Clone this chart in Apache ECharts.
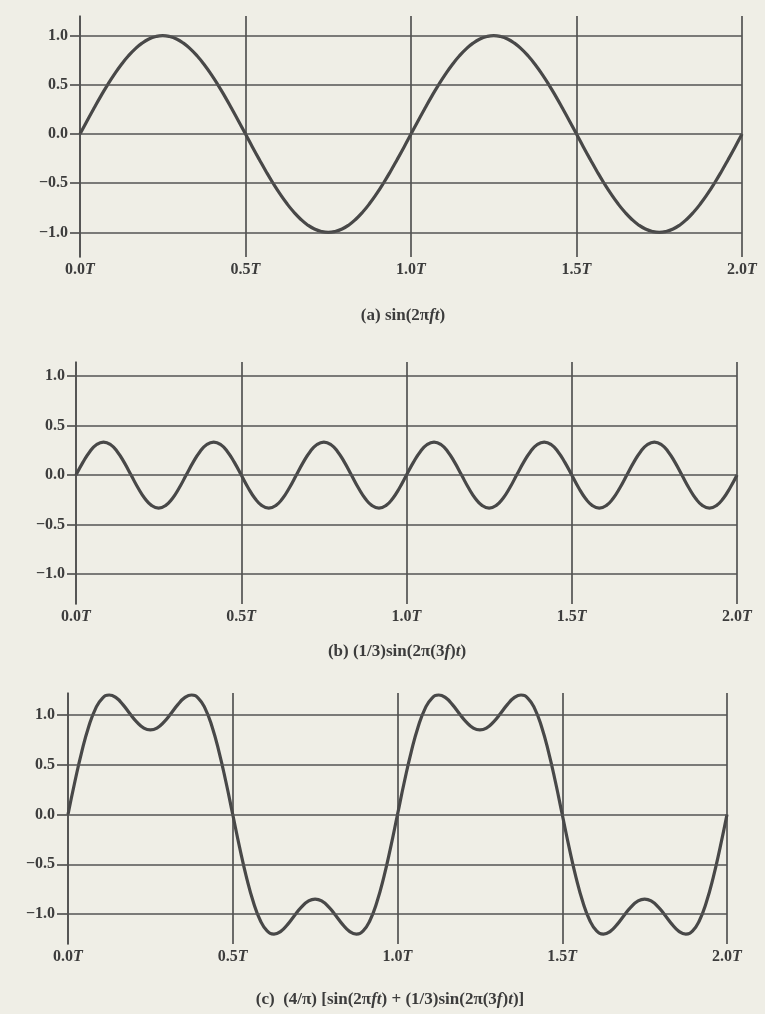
<!DOCTYPE html>
<html>
<head>
<meta charset="utf-8">
<title>sin waves</title>
<script src="https://cdn.jsdelivr.net/npm/echarts@6.0.0/dist/echarts.min.js"></script>
<style>
  html, body { margin: 0; padding: 0; background: #efeee6; }
  #chart { width: 765px; height: 1014px; }
</style>
</head>
<body>
<div id="chart"></div>
<script>
// sample times, in periods T (1/48 T apart)
const times = [
  0, 0.0208, 0.0417, 0.0625, 0.0833, 0.1042, 0.125, 0.1458, 0.1667, 0.1875, 0.2083, 0.2292,
  0.25, 0.2708, 0.2917, 0.3125, 0.3333, 0.3542, 0.375, 0.3958, 0.4167, 0.4375, 0.4583, 0.4792,
  0.5, 0.5208, 0.5417, 0.5625, 0.5833, 0.6042, 0.625, 0.6458, 0.6667, 0.6875, 0.7083, 0.7292,
  0.75, 0.7708, 0.7917, 0.8125, 0.8333, 0.8542, 0.875, 0.8958, 0.9167, 0.9375, 0.9583, 0.9792,
  1.0, 1.0208, 1.0417, 1.0625, 1.0833, 1.1042, 1.125, 1.1458, 1.1667, 1.1875, 1.2083, 1.2292,
  1.25, 1.2708, 1.2917, 1.3125, 1.3333, 1.3542, 1.375, 1.3958, 1.4167, 1.4375, 1.4583, 1.4792,
  1.5, 1.5208, 1.5417, 1.5625, 1.5833, 1.6042, 1.625, 1.6458, 1.6667, 1.6875, 1.7083, 1.7292,
  1.75, 1.7708, 1.7917, 1.8125, 1.8333, 1.8542, 1.875, 1.8958, 1.9167, 1.9375, 1.9583, 1.9792,
  2.0
]

// (a) sin(2πft)
const waveA = [
  0, 0.131, 0.259, 0.383, 0.5, 0.609, 0.707, 0.793, 0.866, 0.924, 0.966, 0.991,
  1, 0.991, 0.966, 0.924, 0.866, 0.793, 0.707, 0.609, 0.5, 0.383, 0.259, 0.131,
  0, -0.131, -0.259, -0.383, -0.5, -0.609, -0.707, -0.793, -0.866, -0.924, -0.966, -0.991,
  -1, -0.991, -0.966, -0.924, -0.866, -0.793, -0.707, -0.609, -0.5, -0.383, -0.259, -0.131,
  0, 0.131, 0.259, 0.383, 0.5, 0.609, 0.707, 0.793, 0.866, 0.924, 0.966, 0.991,
  1, 0.991, 0.966, 0.924, 0.866, 0.793, 0.707, 0.609, 0.5, 0.383, 0.259, 0.131,
  0, -0.131, -0.259, -0.383, -0.5, -0.609, -0.707, -0.793, -0.866, -0.924, -0.966, -0.991,
  -1, -0.991, -0.966, -0.924, -0.866, -0.793, -0.707, -0.609, -0.5, -0.383, -0.259, -0.131,
  0
]

// (b) (1/3)sin(2π(3f)t)
const waveB = [
  0, 0.128, 0.236, 0.308, 0.333, 0.308, 0.236, 0.128, 0, -0.128, -0.236, -0.308,
  -0.333, -0.308, -0.236, -0.128, 0, 0.128, 0.236, 0.308, 0.333, 0.308, 0.236, 0.128,
  0, -0.128, -0.236, -0.308, -0.333, -0.308, -0.236, -0.128, 0, 0.128, 0.236, 0.308,
  0.333, 0.308, 0.236, 0.128, 0, -0.128, -0.236, -0.308, -0.333, -0.308, -0.236, -0.128,
  0, 0.128, 0.236, 0.308, 0.333, 0.308, 0.236, 0.128, 0, -0.128, -0.236, -0.308,
  -0.333, -0.308, -0.236, -0.128, 0, 0.128, 0.236, 0.308, 0.333, 0.308, 0.236, 0.128,
  0, -0.128, -0.236, -0.308, -0.333, -0.308, -0.236, -0.128, 0, 0.128, 0.236, 0.308,
  0.333, 0.308, 0.236, 0.128, 0, -0.128, -0.236, -0.308, -0.333, -0.308, -0.236, -0.128,
  0
]

// (c) (4/π)[sin(2πft) + (1/3)sin(2π(3f)t)]
const waveC = [
  0, 0.329, 0.630, 0.879, 1.061, 1.167, 1.200, 1.173, 1.103, 1.014, 0.930, 0.870,
  0.849, 0.870, 0.930, 1.014, 1.103, 1.173, 1.200, 1.167, 1.061, 0.879, 0.630, 0.329,
  0, -0.329, -0.630, -0.879, -1.061, -1.167, -1.200, -1.173, -1.103, -1.014, -0.930, -0.870,
  -0.849, -0.870, -0.930, -1.014, -1.103, -1.173, -1.200, -1.167, -1.061, -0.879, -0.630, -0.329,
  0, 0.329, 0.630, 0.879, 1.061, 1.167, 1.200, 1.173, 1.103, 1.014, 0.930, 0.870,
  0.849, 0.870, 0.930, 1.014, 1.103, 1.173, 1.200, 1.167, 1.061, 0.879, 0.630, 0.329,
  0, -0.329, -0.630, -0.879, -1.061, -1.167, -1.200, -1.173, -1.103, -1.014, -0.930, -0.870,
  -0.849, -0.870, -0.930, -1.014, -1.103, -1.173, -1.200, -1.167, -1.061, -0.879, -0.630, -0.329,
  0
]

const yTicks = [1.0, 0.5, 0.0, -0.5, -1.0]
const yTickLabels = ['1.0', '0.5', '0.0', '\u22120.5', '\u22121.0']
const xTickLabels = ['0.0', '0.5', '1.0', '1.5', '2.0']

const titles = [
  '{b|(a) sin(2\u03c0}{i|ft}{b|)}',
  '{b|(b) (1/3)sin(2\u03c0(3}{i|f}{b|)}{i|t}{b|)}',
  '{b|(c)  (4/\u03c0) [sin(2\u03c0}{i|ft}{b|) + (1/3)sin(2\u03c0(3}{i|f}{b|)}{i|t}{b|)]}'
]

// layout of the three panels (px)
const panels = [
  { left: 80, right: 23, top: 16, height: 241, min: -1.25, max: 1.2, tick: 10, titleX: 403, titleY: 316, data: waveA },
  { left: 76, right: 28, top: 362, height: 242, min: -1.3, max: 1.14, tick: 9, titleX: 397, titleY: 652, data: waveB },
  { left: 68, right: 38, top: 693, height: 251, min: -1.3, max: 1.22, tick: 11, titleX: 390, titleY: 1000, data: waveC }
]

const inkColor = '#484848'
const gridColor = '#535353'
const textColor = '#3c3c3c'
const serif = '"Liberation Serif", "DejaVu Serif", serif'

const chart = echarts.init(document.getElementById('chart'))

const option = {
  backgroundColor: '#efeee6',
  animation: false,
  grid: panels.map(p => ({ left: p.left, right: p.right, top: p.top, height: p.height })),
  xAxis: panels.map((p, i) => ({
    type: 'value',
    gridIndex: i,
    min: 0,
    max: 2,
    interval: 0.5,
    axisLine: { show: false },
    axisTick: { show: false },
    splitLine: { show: true, lineStyle: { color: gridColor, width: 1.7 } },
    axisLabel: {
      showMinLabel: true,
      showMaxLabel: true,
      margin: 5,
      formatter: v => '{n|' + xTickLabels[Math.round(v / 0.5)] + '}{t|T}',
      rich: {
        n: { fontFamily: serif, fontWeight: 'bold', fontSize: 16, color: textColor },
        t: { fontFamily: serif, fontWeight: 'bold', fontStyle: 'italic', fontSize: 16, color: textColor }
      }
    }
  })),
  yAxis: panels.map((p, i) => ({
    type: 'value',
    gridIndex: i,
    min: p.min,
    max: p.max,
    splitLine: { show: false },
    axisLine: { show: true, lineStyle: { color: gridColor, width: 1.7 } },
    axisTick: {
      show: true,
      customValues: yTicks,
      length: p.tick,
      lineStyle: { color: gridColor, width: 1.7 }
    },
    axisLabel: {
      customValues: yTicks,
      margin: p.tick + 2,
      formatter: v => yTickLabels[yTicks.indexOf(Math.round(v * 10) / 10)],
      fontFamily: serif,
      fontWeight: 'bold',
      fontSize: 16,
      color: textColor
    }
  })),
  series: panels.map((p, i) => ({
    type: 'line',
    xAxisIndex: i,
    yAxisIndex: i,
    data: times.map((t, k) => [t, p.data[k]]),
    smooth: 0.5,
    showSymbol: false,
    lineStyle: { color: inkColor, width: 3.2 },
    markLine: {
      silent: true,
      symbol: 'none',
      label: { show: false },
      lineStyle: { color: gridColor, width: 1.7, type: 'solid' },
      data: yTicks.map(v => ({ yAxis: v }))
    }
  })),
  graphic: panels.map((p, i) => ({
    type: 'text',
    x: p.titleX,
    y: p.titleY,
    style: {
      text: titles[i],
      textAlign: 'center',
      textVerticalAlign: 'middle',
      rich: {
        b: { fontFamily: serif, fontWeight: 'bold', fontSize: 17, fill: textColor },
        i: { fontFamily: serif, fontWeight: 'bold', fontStyle: 'italic', fontSize: 17, fill: textColor }
      }
    }
  }))
}

chart.setOption(option)
</script>
</body>
</html>
